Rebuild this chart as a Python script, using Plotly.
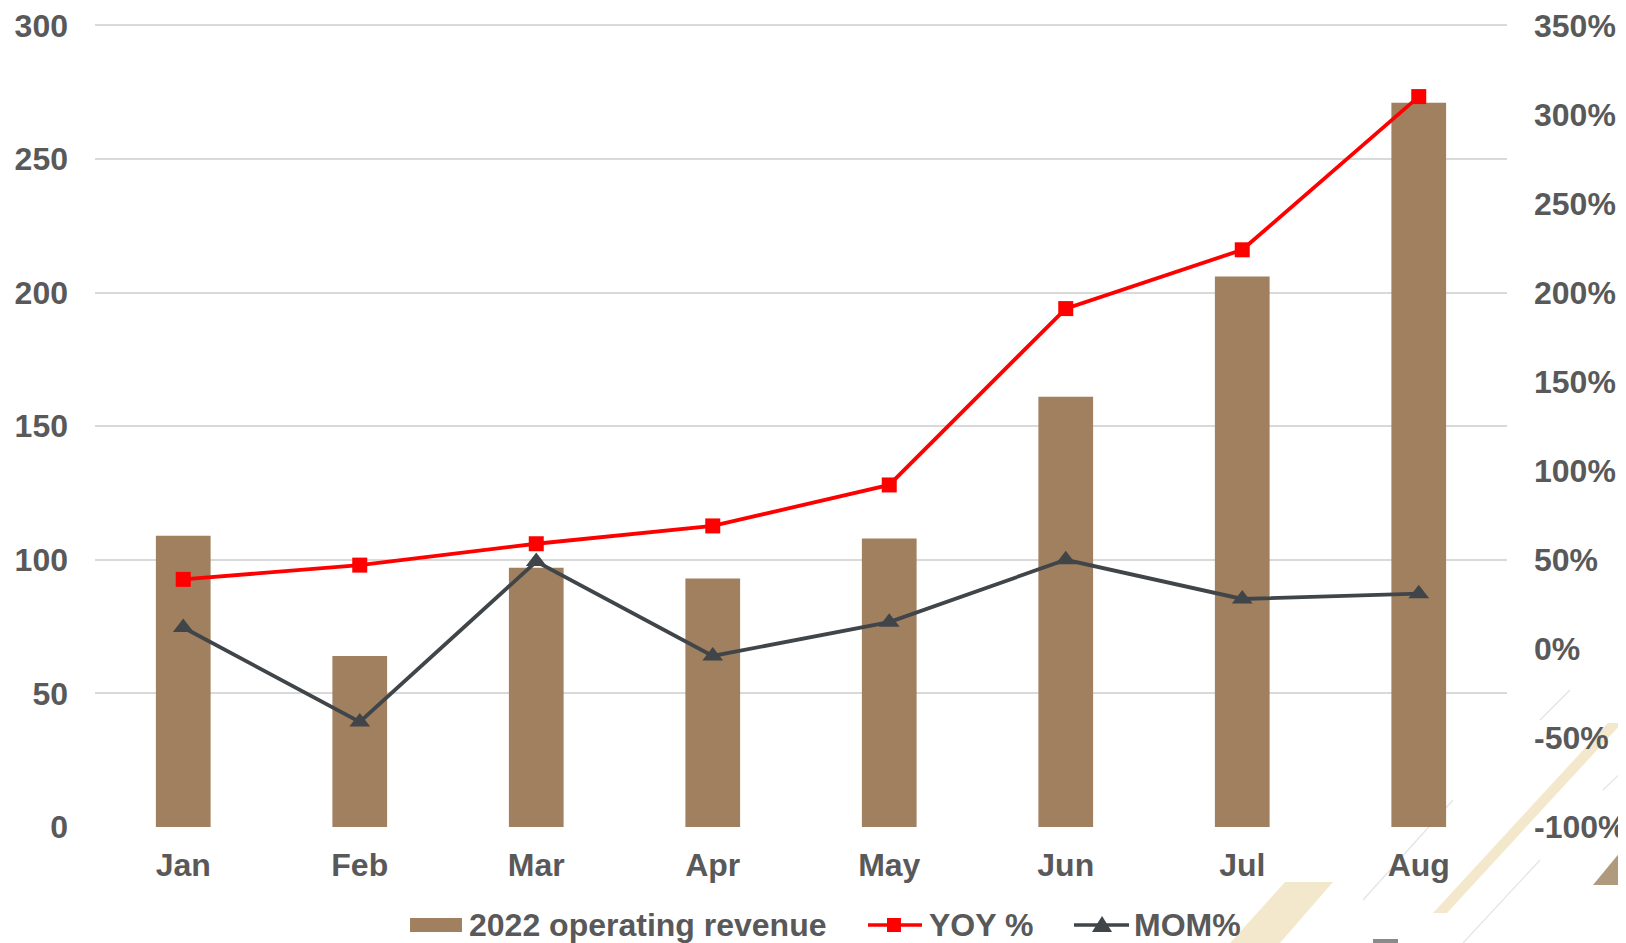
import plotly.graph_objects as go

# datos
meses = ["Jan", "Feb", "Mar", "Apr", "May", "Jun", "Jul", "Aug"]
ingresos = [109, 64, 97, 93, 108, 161, 206, 271]
yoy = [39, 47, 59, 69, 92, 191, 224, 310]
mom = [12, -41, 49, -4, 15, 50, 28, 31]
ticks_izq = [0, 50, 100, 150, 200, 250, 300]
ticks_der = [-100, -50, 0, 50, 100, 150, 200, 250, 300, 350]
nombres = ["2022 operating revenue", "YOY %", "MOM%"]

# la página deja 8px de margen en el body: la figura empieza en (8, 8)
OFF = 8
W, H = 1626 - OFF, 943 - OFF
# bordes del área de trazado, en pixeles de la página
X0, X1, Y0, Y1 = 95, 1507, 24, 827
L, R, T, B = X0 - OFF, W - (X1 - OFF), Y0 - OFF, H - (Y1 - OFF)
gris = "#595959"
marron = "#A0805F"
rojo = "#FF0000"
oscuro = "#404549"
fuente = dict(family="Arial, Liberation Sans, sans-serif", size=32, color=gris, weight="bold")


def px(x, y):
    # pixel de la página -> coordenadas paper
    return (x - X0) / (X1 - X0), (Y1 - y) / (Y1 - Y0)


def poligono(puntos):
    pts = [px(x, y) for x, y in puntos]
    return "M " + " L ".join(f"{a:.4f},{b:.4f}" for a, b in pts) + " Z"


fig = go.Figure()

fig.add_trace(go.Bar(
    x=meses, y=ingresos, name=nombres[0],
    marker=dict(color=marron, line=dict(width=0)),
))
fig.add_trace(go.Scatter(
    x=meses, y=yoy, name=nombres[1], yaxis="y2", mode="lines+markers",
    line=dict(color=rojo, width=3.8),
    marker=dict(symbol="square", size=15, color=rojo),
))
fig.add_trace(go.Scatter(
    x=meses, y=mom, name=nombres[2], yaxis="y2", mode="lines+markers",
    line=dict(color=oscuro, width=3.8),
    marker=dict(symbol="triangle-up", size=18, color=oscuro),
))

# decoraciones del fondo (abajo a la derecha)
formas = [
    (poligono([(1230, 943), (1280, 943), (1333, 882), (1285, 882)]), "#F3E8CC"),
    (poligono([(1433, 913), (1447, 913), (1622, 723), (1608, 723)]), "#F3E8CC"),
    (poligono([(1593, 885), (1626, 885), (1626, 845)]), "#B09A7E"),
    (poligono([(1373, 939), (1398, 939), (1398, 943), (1373, 943)]), "#8A8A8A"),
]
shapes = [dict(type="path", xref="paper", yref="paper", path=p,
               fillcolor=c, line=dict(width=0), layer="below") for p, c in formas]
for (x0, y0), (x1, y1) in [((1363, 900), (1453, 800)), ((1463, 943), (1540, 860)),
                           ((1603, 790), (1626, 768)), ((1540, 720), (1570, 690))]:
    a0, b0 = px(x0, y0)
    a1, b1 = px(x1, y1)
    shapes.append(dict(type="line", xref="paper", yref="paper", x0=a0, y0=b0, x1=a1, y1=b1,
                       line=dict(color="#E4E4E4", width=1.2), layer="below"))

# leyenda dibujada a mano (el símbolo de barra de plotly es un cuadrado pequeño)
shapes.append(dict(type="path", xref="paper", yref="paper", fillcolor=marron, line=dict(width=0),
                   path=poligono([(410, 918), (462, 918), (462, 932), (410, 932)])))
for (xa, xb), color in [((868, 922), rojo), ((1074, 1129), oscuro)]:
    a0, b0 = px(xa, 925)
    a1, _ = px(xb, 925)
    shapes.append(dict(type="line", xref="paper", yref="paper", x0=a0, y0=b0, x1=a1, y1=b0,
                       line=dict(color=color, width=3.5)))
shapes.append(dict(type="path", xref="paper", yref="paper", fillcolor=rojo, line=dict(width=0),
                   path=poligono([(887, 918), (901, 918), (901, 932), (887, 932)])))
shapes.append(dict(type="path", xref="paper", yref="paper", fillcolor=oscuro, line=dict(width=0),
                   path=poligono([(1092, 932), (1112, 932), (1102, 916)])))

annotations = []
for nombre, x in zip(nombres, [467, 927, 1132]):
    a, b = px(x, 925)
    annotations.append(dict(text=nombre, x=a, y=b, xref="paper", yref="paper",
                            xanchor="left", yanchor="middle", showarrow=False, font=fuente))

fig.update_layout(
    width=W, height=H,
    margin=dict(l=L, r=R, t=T, b=B, autoexpand=False),
    paper_bgcolor="white", plot_bgcolor="rgba(0,0,0,0)",
    bargap=0.69,
    showlegend=False,
    xaxis=dict(showgrid=False, showline=False, zeroline=False, ticks="",
               tickfont=fuente, ticklabelstandoff=16, automargin=False,
               ticklabeloverflow="allow"),
    yaxis=dict(range=[0, 300.5], tickvals=ticks_izq, showgrid=True, gridcolor="#D9D9D9",
               gridwidth=1.6, zeroline=False, showline=False, ticks="",
               tickfont=fuente, ticklabelstandoff=26, automargin=False,
               ticklabeloverflow="allow"),
    yaxis2=dict(range=[-100, 350.75], tickvals=ticks_der, ticktext=[f"{v}%" for v in ticks_der],
                overlaying="y", side="right", showgrid=False, zeroline=False, showline=False,
                ticks="", tickfont=fuente, ticklabelstandoff=26, automargin=False,
                ticklabeloverflow="allow"),
    shapes=shapes,
    annotations=annotations,
)

fig.write_html("out.html")
